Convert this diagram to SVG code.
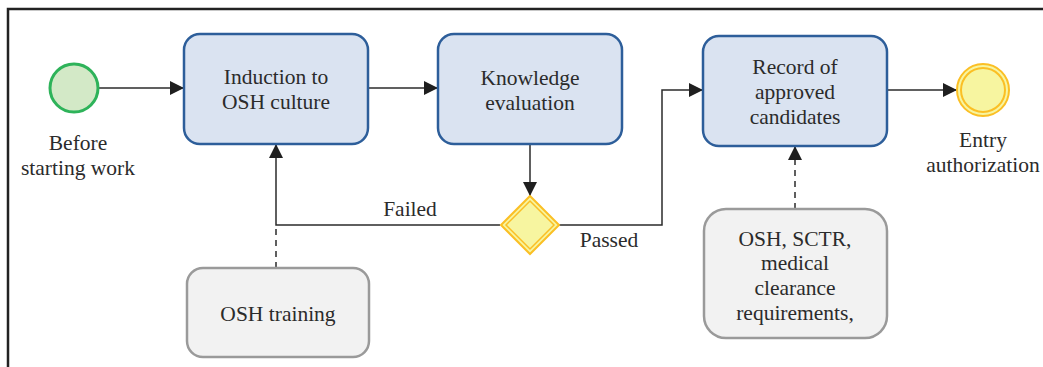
<svg xmlns="http://www.w3.org/2000/svg" width="1043" height="367" viewBox="0 0 1043 367">
<style>
.t{font-size:21.5px;fill:#2b2b2b;text-anchor:middle}
.task{fill:#dae3f1;stroke:#2d5e9a;stroke-width:2.5}
.note{fill:#f2f2f2;stroke:#9a9a9a;stroke-width:2.5}
.flow{fill:none;stroke:#2b2b2b;stroke-width:1.5}
.assoc{fill:none;stroke:#2b2b2b;stroke-width:1.5;stroke-dasharray:6 5}
</style>
<defs>
<marker id="arr" viewBox="0 0 10 10" refX="10" refY="5" markerWidth="14" markerHeight="14" markerUnits="userSpaceOnUse" orient="auto">
<path d="M0,0 L10,5 L0,10 Z" fill="#1f1f1f"/>
</marker>
</defs>
<rect width="1043" height="367" fill="#fff"/>
<path d="M8,367 V9 H1043" fill="none" stroke="#222" stroke-width="2.5"/>
<g font-family="Liberation Serif, Tinos, 'DejaVu Serif', serif">
<g id="connectors">
<path class="flow" d="M99,88 H184" marker-end="url(#arr)"/>
<path class="flow" d="M368,88 H438" marker-end="url(#arr)"/>
<path class="flow" d="M530,144 V196" marker-end="url(#arr)"/>
<path class="flow" d="M500,225 H276 V144" marker-end="url(#arr)"/>
<path class="flow" d="M559,225 H662 V90 H703" marker-end="url(#arr)"/>
<path class="flow" d="M887,90 H957" marker-end="url(#arr)"/>
<path class="assoc" d="M276,268 V225"/>
<path class="assoc" d="M795,209 V160"/>
<path d="M795,160 V146" stroke="#2b2b2b" stroke-width="1.5" marker-end="url(#arr)"/>
<text class="t" x="410" y="216">Failed</text>
<text class="t" x="609" y="247">Passed</text>
</g>
<g id="start">
<circle cx="74" cy="88" r="24" fill="#d3e9c7" stroke="#2eb35a" stroke-width="3"/>
<text class="t" x="78" y="150">Before</text>
<text class="t" x="78" y="175">starting work</text>
</g>
<g id="induction">
<rect class="task" x="184" y="34" width="184" height="110" rx="16"/>
<text class="t" x="276" y="84">Induction to</text>
<text class="t" x="276" y="109">OSH culture</text>
</g>
<g id="knowledge">
<rect class="task" x="438" y="34" width="184" height="110" rx="16"/>
<text class="t" x="530" y="85">Knowledge</text>
<text class="t" x="530" y="110">evaluation</text>
</g>
<g id="gateway">
<path d="M530,196 L559,225 L530,254 L501,225 Z" fill="#f7f5a0" stroke="#fbbf24" stroke-width="2"/>
<path d="M530,201 L554,225 L530,249 L506,225 Z" fill="none" stroke="#fbbf24" stroke-width="1.5"/>
</g>
<g id="record">
<rect class="task" x="703" y="36" width="184" height="110" rx="16"/>
<text class="t" x="795" y="74">Record of</text>
<text class="t" x="795" y="99">approved</text>
<text class="t" x="795" y="124">candidates</text>
</g>
<g id="end">
<circle cx="983" cy="90" r="26" fill="#f7f5a0" stroke="#fbbf24" stroke-width="2"/>
<circle cx="983" cy="90" r="22" fill="none" stroke="#fbbf24" stroke-width="2"/>
<text class="t" x="983" y="147">Entry</text>
<text class="t" x="983" y="172">authorization</text>
</g>
<g id="training">
<rect class="note" x="187" y="268" width="182" height="89" rx="16"/>
<text class="t" x="278" y="321">OSH training</text>
</g>
<g id="requirements">
<rect class="note" x="704" y="209" width="183" height="129" rx="22"/>
<text class="t" x="795" y="246">OSH, SCTR,</text>
<text class="t" x="795" y="270">medical</text>
<text class="t" x="795" y="295">clearance</text>
<text class="t" x="795" y="320">requirements,</text>
</g>
</g>
</svg>
